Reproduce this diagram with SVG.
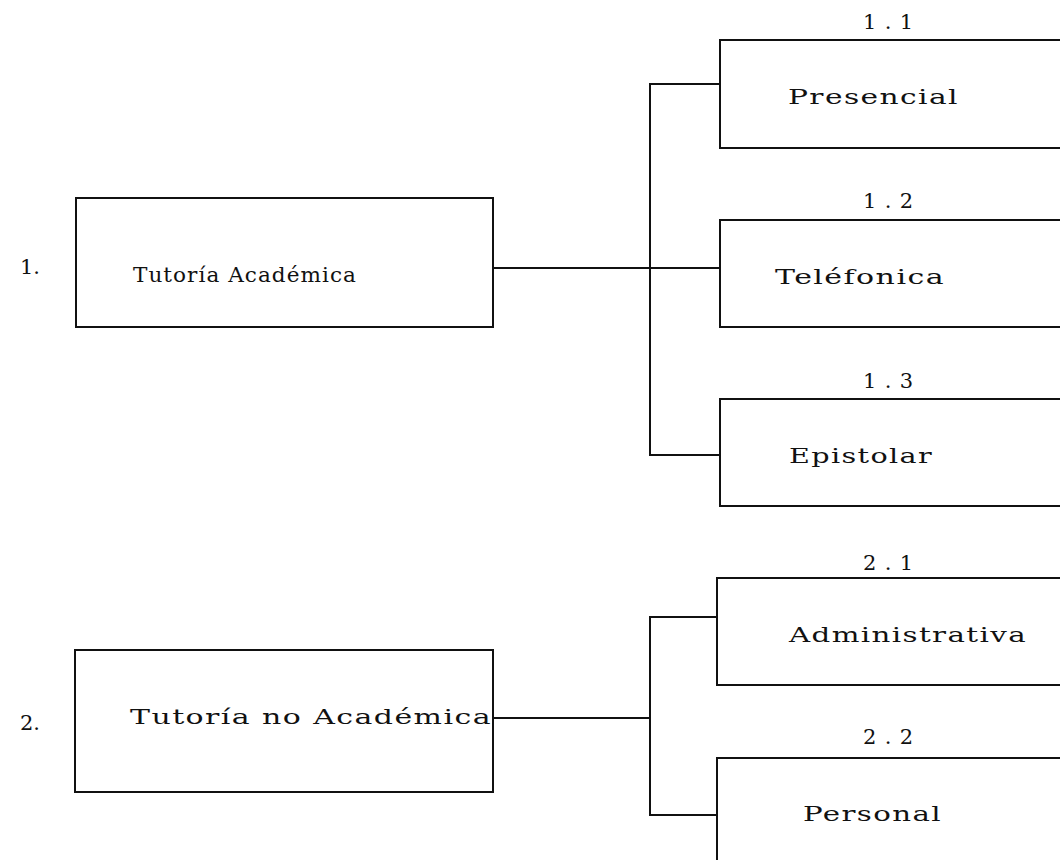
<svg xmlns="http://www.w3.org/2000/svg" width="1060" height="860" viewBox="0 0 1060 860">
<style>
.box{fill:none;stroke:#111;stroke-width:2}
.ln{fill:none;stroke:#111;stroke-width:2}
.t{font-family:"DejaVu Serif","Liberation Serif",serif;font-size:21px;fill:#111;letter-spacing:1px}
.n{font-family:"DejaVu Serif","Liberation Serif",serif;font-size:21px;fill:#111}
</style>
<rect width="1060" height="860" fill="#fff"/>
<g id="connectors">
<path class="ln" d="M493,268 H720"/>
<path class="ln" d="M720,84 H650 V455 H720"/>
<path class="ln" d="M493,718 H650"/>
<path class="ln" d="M718,617 H650 V815 H718"/>
</g>
<g id="n1">
<text class="n" x="20" y="274" textLength="20">1.</text>
<rect class="box" x="76" y="198" width="417" height="129"/>
<text class="t" x="133" y="282" textLength="224" lengthAdjust="spacingAndGlyphs">Tutoría Académica</text>
</g>
<g id="n11">
<text class="n" x="863" y="29" textLength="50">1.1</text>
<rect class="box" x="720" y="40" width="360" height="108"/>
<text class="t" x="788" y="104" textLength="171" lengthAdjust="spacingAndGlyphs">Presencial</text>
</g>
<g id="n12">
<text class="n" x="863" y="208" textLength="50">1.2</text>
<rect class="box" x="720" y="220" width="360" height="107"/>
<text class="t" x="775" y="284" textLength="170" lengthAdjust="spacingAndGlyphs">Teléfonica</text>
</g>
<g id="n13">
<text class="n" x="863" y="388" textLength="50">1.3</text>
<rect class="box" x="720" y="399" width="360" height="107"/>
<text class="t" x="789" y="463" textLength="144" lengthAdjust="spacingAndGlyphs">Epistolar</text>
</g>
<g id="n2">
<text class="n" x="20" y="730" textLength="20">2.</text>
<rect class="box" x="75" y="650" width="418" height="142"/>
<text class="t" x="130" y="724" textLength="362" lengthAdjust="spacingAndGlyphs">Tutoría no Académica</text>
</g>
<g id="n21">
<text class="n" x="863" y="570" textLength="50">2.1</text>
<rect class="box" x="717" y="578" width="360" height="107"/>
<text class="t" x="789" y="642" textLength="238" lengthAdjust="spacingAndGlyphs">Administrativa</text>
</g>
<g id="n22">
<text class="n" x="863" y="744" textLength="50">2.2</text>
<rect class="box" x="717" y="758" width="360" height="120"/>
<text class="t" x="803" y="821" textLength="139" lengthAdjust="spacingAndGlyphs">Personal</text>
</g>
</svg>
